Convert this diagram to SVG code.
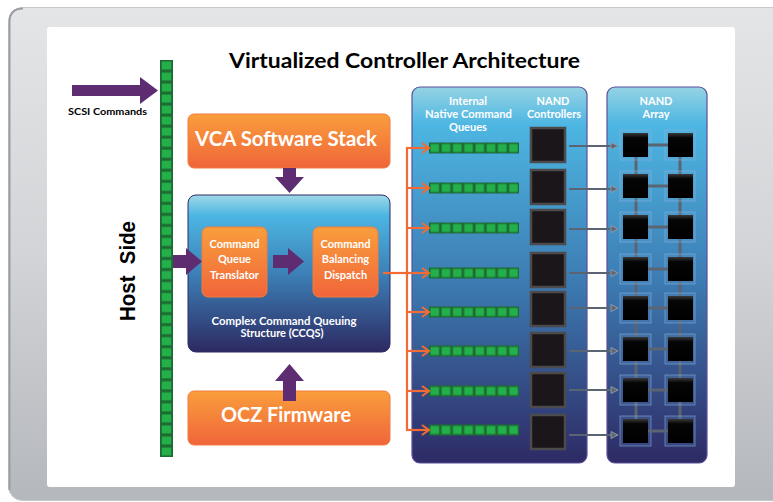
<svg xmlns="http://www.w3.org/2000/svg" width="773" height="502" viewBox="0 0 773 502">
<defs>
<linearGradient id="frameG" x1="0" y1="0" x2="0" y2="1"><stop offset="0" stop-color="#e4e5e7"/><stop offset="0.5" stop-color="#d2d4d7"/><stop offset="1" stop-color="#b4b7bc"/></linearGradient>
<linearGradient id="orG" x1="0" y1="0" x2="0" y2="1"><stop offset="0" stop-color="#f99e3c"/><stop offset="1" stop-color="#f0653a"/></linearGradient>
<linearGradient id="blueG" x1="0" y1="0" x2="0" y2="1"><stop offset="0" stop-color="#9fd9e8"/><stop offset="0.13" stop-color="#4cb6e2"/><stop offset="0.5" stop-color="#3c80b7"/><stop offset="1" stop-color="#2d2962"/></linearGradient>
<linearGradient id="panelG" x1="0" y1="0" x2="0" y2="1"><stop offset="0" stop-color="#95d3e4"/><stop offset="0.1" stop-color="#4db6e2"/><stop offset="0.5" stop-color="#3d7eb5"/><stop offset="1" stop-color="#2e2a65"/></linearGradient>
<linearGradient id="chipG" x1="0" y1="0" x2="0" y2="1"><stop offset="0" stop-color="#3a3a3c"/><stop offset="0.2" stop-color="#050505"/><stop offset="1" stop-color="#000"/></linearGradient>
<pattern id="gsq" x="160" y="60" width="13" height="11.028" patternUnits="userSpaceOnUse"><rect width="13" height="11.028" fill="#1d6a33"/><rect x="1.8" y="1.5" width="9.4" height="8" fill="#23b04b"/></pattern>
<pattern id="qsq" patternUnits="objectBoundingBox" width="0.125" height="1"><rect width="11.25" height="11" fill="#1d6a33"/><rect x="1.5" y="1.5" width="8.5" height="8" fill="#23b04b"/></pattern>
<marker id="oArr" markerUnits="userSpaceOnUse" markerWidth="10" markerHeight="12" refX="8" refY="5" orient="auto" overflow="visible"><path d="M1,0 L8,5 L1,10" fill="none" stroke="#f26b34" stroke-width="2"/></marker>
<marker id="gArr" markerUnits="userSpaceOnUse" markerWidth="9" markerHeight="9" refX="7" refY="3.5" orient="auto" overflow="visible"><path d="M0,0 L7,3.5 L0,7 z" fill="#5f6672" stroke="#9aa3b3" stroke-width="0.8"/></marker>
</defs>
<style>
.t{font-family:Lato,"Open Sans","Liberation Sans",sans-serif;font-weight:700;}
.w{fill:#ffffff;}
.k{fill:#000000;}
.sm{font-size:11px;text-anchor:middle;}
.big{font-size:20px;text-anchor:middle;}
.ob{fill:url(#orG);stroke:#f07c40;stroke-width:1;}
.pa{fill:#5e2c70;}
.ctl{fill:#1b1619;stroke:#4b4b4d;stroke-width:2.5;}
.chipbox{fill:#6fa6d8;fill-opacity:0.18;stroke:#8cb8e0;stroke-opacity:0.55;stroke-width:1;}
.chip{fill:url(#chipG);}
.gl{stroke:#5b6472;stroke-width:3;fill:none;}
.ga{stroke:#5b6472;stroke-width:2;fill:none;marker-end:url(#gArr);}
.ol{stroke:#f26b34;stroke-width:2.2;fill:none;}
.oa{stroke:#f26b34;stroke-width:2.2;fill:none;marker-end:url(#oArr);}
.q{fill:url(#qsq);}
</style>
<g id="frame">
<rect x="8.5" y="7.5" width="790" height="493" rx="14" fill="url(#frameG)" stroke="#c6c8cc" stroke-width="1"/>
<path d="M9.5,490 L9.5,22 Q9.5,8.5 23,8.5" fill="none" stroke="#9a9ea4" stroke-width="2"/>
<rect x="47" y="27" width="688" height="460" rx="3" fill="#ffffff"/>
</g>
<text class="t k" x="404.5" y="68" font-size="21" text-anchor="middle" textLength="351" lengthAdjust="spacingAndGlyphs">Virtualized Controller Architecture</text>
<g id="host-side">
<text class="t k" transform="translate(135,271) rotate(-90)" font-size="22" text-anchor="middle" textLength="100" lengthAdjust="spacingAndGlyphs" font-family="'Liberation Sans',Arial,sans-serif" style="font-family:'Liberation Sans',Arial,sans-serif" xml:space="preserve">Host  Side</text>
</g>
<g id="host-bus"><rect x="160" y="60" width="13" height="397" fill="url(#gsq)"/></g>
<g id="scsi">
<polygon class="pa" points="72,85 140,85 140,77 158,90.5 140,104 140,96 72,96"/>
<text class="t k" x="107.5" y="115" font-size="10" text-anchor="middle" textLength="79" lengthAdjust="spacingAndGlyphs">SCSI Commands</text>
</g>
<g id="vca">
<rect class="ob" x="188" y="114" width="202" height="54" rx="6"/>
<text class="t w big" x="286" y="146" textLength="182" lengthAdjust="spacingAndGlyphs">VCA Software Stack</text>
</g>
<g id="ccqs">
<rect x="188" y="195" width="202" height="157" rx="8" fill="url(#blueG)" stroke="#2d2a63" stroke-width="1"/>
<text class="t w sm" x="284" y="325" textLength="145" lengthAdjust="spacingAndGlyphs">Complex Command Queuing</text>
<text class="t w sm" x="282" y="337">Structure (CCQS)</text>
</g>
<g id="cqt">
<rect class="ob" x="202" y="227" width="65" height="70" rx="6"/>
<text class="t w sm" x="234.5" y="248">Command</text>
<text class="t w sm" x="234.5" y="263">Queue</text>
<text class="t w sm" x="234.5" y="279">Translator</text>
</g>
<g id="cbd">
<rect class="ob" x="313" y="227" width="65" height="70" rx="6"/>
<text class="t w sm" x="345.5" y="248">Command</text>
<text class="t w sm" x="345.5" y="263">Balancing</text>
<text class="t w sm" x="345.5" y="279">Dispatch</text>
</g>
<g id="ocz">
<rect class="ob" x="188" y="391" width="202" height="54" rx="6"/>
<text class="t w big" x="286" y="422" textLength="130" lengthAdjust="spacingAndGlyphs">OCZ Firmware</text>
</g>
<g id="queues-panel">
<rect x="412" y="87" width="175" height="376" rx="8" fill="url(#panelG)" stroke="#5b4f9c" stroke-width="1.2"/>
<text class="t w sm" x="468" y="105">Internal</text>
<text class="t w sm" x="468.5" y="118" textLength="87" lengthAdjust="spacingAndGlyphs">Native Command</text>
<text class="t w sm" x="468" y="131">Queues</text>
<text class="t w sm" x="553" y="105">NAND</text>
<text class="t w sm" x="554" y="118">Controllers</text>
<rect class="q" x="429" y="142.5" width="90" height="11"/>
<rect class="q" x="429" y="182.5" width="90" height="11"/>
<rect class="q" x="429" y="222.5" width="90" height="11"/>
<rect class="q" x="429" y="267.5" width="90" height="11"/>
<rect class="q" x="429" y="306.5" width="90" height="11"/>
<rect class="q" x="429" y="345.5" width="90" height="11"/>
<rect class="q" x="429" y="385.5" width="90" height="11"/>
<rect class="q" x="429" y="424.5" width="90" height="11"/>
<rect class="ctl" x="531" y="128" width="34" height="34"/>
<rect class="ctl" x="531" y="170" width="34" height="34"/>
<rect class="ctl" x="531" y="210" width="34" height="34"/>
<rect class="ctl" x="531" y="253" width="34" height="34"/>
<rect class="ctl" x="531" y="292" width="34" height="34"/>
<rect class="ctl" x="531" y="333" width="34" height="34"/>
<rect class="ctl" x="531" y="373" width="34" height="34"/>
<rect class="ctl" x="531" y="415" width="34" height="34"/>
</g>
<g id="nand-array">
<rect x="607" y="87" width="100" height="376" rx="8" fill="url(#panelG)" stroke="#5b4f9c" stroke-width="1.2"/>
<text class="t w sm" x="656" y="105">NAND</text>
<text class="t w sm" x="656" y="118">Array</text>
<line class="gl" x1="636" y1="150" x2="636" y2="425"/>
<line class="gl" x1="680" y1="150" x2="680" y2="425"/>
<g id="chip-boxes">
<rect class="chipbox" x="620" y="130" width="31" height="30"/><rect class="chipbox" x="665" y="130" width="30" height="30"/>
<rect class="chipbox" x="620" y="171" width="31" height="30"/><rect class="chipbox" x="665" y="171" width="30" height="30"/>
<rect class="chipbox" x="620" y="212" width="31" height="30"/><rect class="chipbox" x="665" y="212" width="30" height="30"/>
<rect class="chipbox" x="620" y="254" width="31" height="30"/><rect class="chipbox" x="665" y="254" width="30" height="30"/>
<rect class="chipbox" x="620" y="293" width="31" height="30"/><rect class="chipbox" x="665" y="293" width="30" height="30"/>
<rect class="chipbox" x="620" y="334" width="31" height="30"/><rect class="chipbox" x="665" y="334" width="30" height="30"/>
<rect class="chipbox" x="620" y="375" width="31" height="30"/><rect class="chipbox" x="665" y="375" width="30" height="30"/>
<rect class="chipbox" x="620" y="416" width="31" height="30"/><rect class="chipbox" x="665" y="416" width="30" height="30"/>
</g>
<line class="gl" x1="648" y1="145" x2="668" y2="145"/>
<line class="gl" x1="648" y1="186" x2="668" y2="186"/>
<line class="gl" x1="648" y1="227" x2="668" y2="227"/>
<line class="gl" x1="648" y1="269" x2="668" y2="269"/>
<line class="gl" x1="648" y1="308" x2="668" y2="308"/>
<line class="gl" x1="648" y1="349" x2="668" y2="349"/>
<line class="gl" x1="648" y1="390" x2="668" y2="390"/>
<line class="gl" x1="648" y1="431" x2="668" y2="431" stroke-width="4"/>
<g id="chips">
<rect class="chip" x="623" y="133" width="25" height="24"/><rect class="chip" x="668" y="133" width="25" height="24"/>
<rect class="chip" x="623" y="174" width="25" height="24"/><rect class="chip" x="668" y="174" width="25" height="24"/>
<rect class="chip" x="623" y="215" width="25" height="24"/><rect class="chip" x="668" y="215" width="25" height="24"/>
<rect class="chip" x="623" y="257" width="25" height="24"/><rect class="chip" x="668" y="257" width="25" height="24"/>
<rect class="chip" x="623" y="296" width="25" height="24"/><rect class="chip" x="668" y="296" width="25" height="24"/>
<rect class="chip" x="623" y="337" width="25" height="24"/><rect class="chip" x="668" y="337" width="25" height="24"/>
<rect class="chip" x="623" y="378" width="25" height="24"/><rect class="chip" x="668" y="378" width="25" height="24"/>
<rect class="chip" x="623" y="419" width="25" height="24"/><rect class="chip" x="668" y="419" width="25" height="24"/>
</g>
</g>
<g id="connectors">
<polygon class="pa" points="283,168 296,168 296,177 304,177 289.5,193 275,177 283,177"/>
<polygon class="pa" points="283,401 296,401 296,381 304,381 289.5,364 275,381 283,381"/>
<polygon class="pa" points="173,255 186,255 186,248 202,261.5 186,275 186,268 173,268"/>
<polygon class="pa" points="273,255 288,255 288,248 304,261.5 288,275 288,268 273,268"/>
<line class="ol" x1="383" y1="273" x2="407" y2="273"/>
<line class="ol" x1="407" y1="147" x2="407" y2="431"/>
<line class="oa" x1="406" y1="148" x2="429" y2="148"/>
<line class="oa" x1="406" y1="188" x2="429" y2="188"/>
<line class="oa" x1="406" y1="228" x2="429" y2="228"/>
<line class="oa" x1="406" y1="273" x2="429" y2="273"/>
<line class="oa" x1="406" y1="312" x2="429" y2="312"/>
<line class="oa" x1="406" y1="351" x2="429" y2="351"/>
<line class="oa" x1="406" y1="391" x2="429" y2="391"/>
<line class="oa" x1="406" y1="430" x2="429" y2="430"/>
<line class="ga" x1="569" y1="146" x2="618" y2="146"/>
<line class="ga" x1="569" y1="189" x2="618" y2="189"/>
<line class="ga" x1="569" y1="229" x2="618" y2="229"/>
<line class="ga" x1="569" y1="273" x2="618" y2="273"/>
<line class="ga" x1="569" y1="308" x2="618" y2="308"/>
<line class="ga" x1="569" y1="351" x2="618" y2="351"/>
<line class="ga" x1="569" y1="390" x2="618" y2="390"/>
<line class="ga" x1="569" y1="435" x2="618" y2="435"/>
</g>
</svg>
